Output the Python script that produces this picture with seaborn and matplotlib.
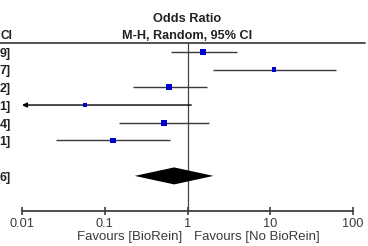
import matplotlib
matplotlib.use('Agg')
import matplotlib.pyplot as plt
import matplotlib.transforms as mtransforms
from matplotlib.lines import Line2D
import seaborn as sns
import pandas as pd

# study rows (odds ratio, 95% CI, weight %)
odds = [1.55, 11.13, 0.60, 0.057, 0.52, 0.126]
lower = [0.63, 2.01, 0.22, 0.003, 0.15, 0.026]
upper = [3.99, 61.97, 1.72, 1.11, 1.84, 0.61]
weights = [21.0, 11.0, 20.5, 10.0, 18.5, 19.0]

# pooled estimate
pooled_or = 0.69
pooled_lo = 0.23
pooled_hi = 2.06

xticks = [0.01, 0.1, 1, 10, 100]
xticklabels = ['0.01', '0.1', '1', '10', '100']

sns.set_style('white')
plt.rcParams['font.family'] = ['Liberation Sans', 'DejaVu Sans']

rows = list(range(len(odds)))
pooled_row = len(odds) + 1
df = pd.DataFrame({'est': odds, 'lo': lower, 'hi': upper, 'w': weights, 'row': rows})

fig = plt.figure(figsize=(3.68, 2.46), dpi=100)
ax = fig.add_axes([22 / 368, 35 / 246, 331 / 368, 168 / 246])
ax.set_xscale('log')
ax.set_xlim(xticks[0], xticks[-1])
ax.set_ylim(8.98, -0.5)

line_col = '#3a3a3a'
xmin = xticks[0]
for r in df.itertuples():
    if r.lo < xmin:
        ax.annotate('', xy=(xmin, r.row), xytext=(r.hi, r.row),
                    arrowprops=dict(arrowstyle='-|>', color='black', lw=1,
                                    mutation_scale=7, shrinkA=0, shrinkB=0))
    else:
        ax.hlines(r.row, r.lo, r.hi, color=line_col, lw=1, zorder=2)

sns.scatterplot(data=df, x='est', y='row', size='w', sizes=(8, 19), marker='s',
                color='#0000CC', linewidth=0, legend=False, ax=ax, zorder=3)

# pooled diamond
h = 0.48
ax.fill([pooled_lo, pooled_or, pooled_hi, pooled_or],
        [pooled_row, pooled_row - h, pooled_row, pooled_row + h],
        color='black', lw=0, zorder=3)

ax.axvline(1, color='#444444', lw=0.9, zorder=1)

for s in ['top', 'right', 'left']:
    ax.spines[s].set_visible(False)
ax.spines['bottom'].set_color('#404040')
ax.spines['bottom'].set_linewidth(1.3)
ax.set_xticks(xticks)
ax.set_xticklabels(xticklabels)
ax.xaxis.set_minor_locator(matplotlib.ticker.NullLocator())
ax.tick_params(axis='x', direction='inout', length=6, width=1.2, color='#404040',
               pad=1.8, labelsize=9.2, labelcolor='#3a3a3a', bottom=True)
ax.set_yticks([])
ax.set_xlabel('')
ax.set_ylabel('')

ax.annotate('Favours [BioRein]', xy=(1, 0), xycoords=('data', 'axes fraction'),
            xytext=(-3.5, -19), textcoords='offset points', ha='right', va='center',
            fontsize=9.5, color='#3a3a3a')
ax.annotate('Favours [No BioRein]', xy=(1, 0), xycoords=('data', 'axes fraction'),
            xytext=(4.9, -19), textcoords='offset points', ha='left', va='center',
            fontsize=9.5, color='#3a3a3a')

# header
dy = 0.1  # nudge text so glyphs sit centred on the row
tr_fig_data = mtransforms.blended_transform_factory(fig.transFigure, ax.transData)
ax.text(1, -1.98 + dy, 'Odds Ratio', ha='center', va='center', fontsize=9.2,
        fontweight='bold', color='#222222', clip_on=False)
ax.text(1, -0.98 + dy, 'M-H, Random, 95% CI', ha='center', va='center', fontsize=9.1,
        fontweight='bold', color='#222222', clip_on=False)
fig.add_artist(Line2D([0, 365 / 368], [-0.5, -0.5], color='#444444', lw=1.3,
                      transform=tr_fig_data))

# left column: only the tail of each CI string is visible inside the frame
left_header = 'M-H, Random, 95% CI'
fig.text(0.5 / 368, -0.98 + dy, left_header.split()[-1], ha='left', va='center',
         fontsize=8.6, fontweight='bold', color='#222222', transform=tr_fig_data)
for r in df.itertuples():
    label = f'{r.est:.2f} [{r.lo:.2f}, {r.hi:.2f}]'
    fig.text(11 / 368, r.row + dy, label[-2:], ha='right',
             va='center', fontsize=9, fontweight='bold', color='#222222',
             transform=tr_fig_data)
pooled_label = f'{pooled_or:.2f} [{pooled_lo:.2f}, {pooled_hi:.2f}]'
fig.text(11 / 368, pooled_row + dy, pooled_label[-2:],
         ha='right', va='center', fontsize=9, fontweight='bold', color='#222222',
         transform=tr_fig_data)

fig.savefig('out.png', dpi=100)
